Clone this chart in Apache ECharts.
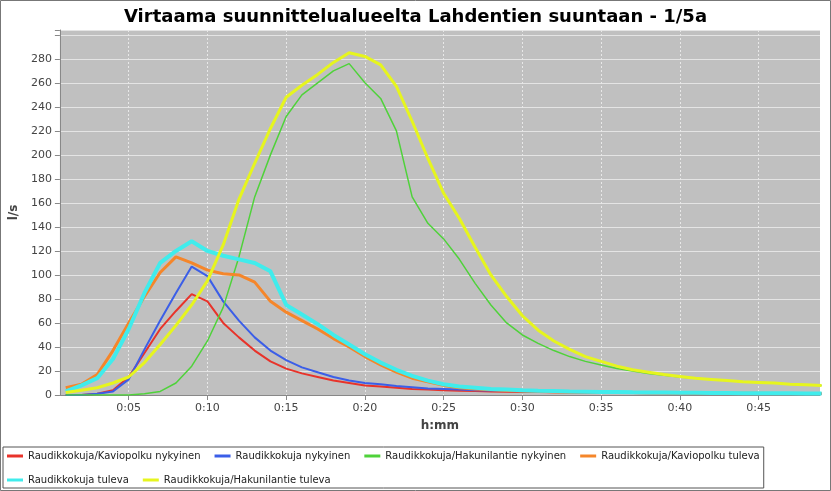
<!DOCTYPE html>
<html lang="fi">
  <head>
    <meta charset="UTF-8">
    <title>Virtaama</title>
    <style>
      body { margin: 0; }
      #chart { width: 831px; height: 491px; }
    </style>
  </head>
  <body>
    <div id="chart"></div>
    <script src="https://cdn.jsdelivr.net/npm/echarts@6/dist/echarts.min.js"></script>
    <script type="text/javascript">
      var myChart = echarts.init(document.getElementById('chart'));

      // minuutit 1..49
      var minutes = [];
      for (var m = 1; m <= 49; m++) minutes.push(m);

      var names = [
        'Raudikkokuja/Kaviopolku nykyinen',
        'Raudikkokuja nykyinen',
        'Raudikkokuja/Hakunilantie nykyinen',
        'Raudikkokuja/Kaviopolku tuleva',
        'Raudikkokuja tuleva',
        'Raudikkokuja/Hakunilantie tuleva'
      ];
      var colors = ['#e8332a', '#3b5ee8', '#4fd23a', '#f5862a', '#40ecec', '#e6f51e'];
      var widths = [2, 2, 1.5, 3, 4, 3];

      var kavioNyk = [0, 0, 1, 4, 15, 35, 55, 70, 84, 78, 60, 48, 37, 28, 22, 18, 15, 12, 10, 8, 7, 6, 5, 4.5, 4,
        3.6, 3.3, 3, 2.8, 2.6, 2.4, 2.2, 2, 1.9, 1.8, 1.7, 1.6, 1.5, 1.4, 1.3, 1.2, 1.2, 1.1, 1.1, 1, 1, 1, 0.9, 0.9];
      var raudNyk = [0, 0, 1, 3, 13, 38, 62, 85, 107, 99, 78, 62, 48, 37, 29, 23, 19, 15, 12, 10, 9, 7.5, 6.5, 5.5, 5,
        4.5, 4, 3.7, 3.4, 3.1, 2.9, 2.7, 2.5, 2.3, 2.2, 2.1, 2, 1.9, 1.8, 1.7, 1.6, 1.5, 1.5, 1.4, 1.4, 1.3, 1.3, 1.2, 1.2];
      var hakuNyk = [0, 0, 0, 0, 0, 1, 3, 10, 24, 45, 73, 115, 165, 200, 232, 250, 260, 270, 276, 260, 247, 220, 165, 143, 130,
        113, 93, 75, 60, 50, 43, 37, 32, 28, 25, 22, 20, 18, 16.5, 15, 14, 13, 12, 11, 10.5, 10, 9, 8.5, 8];
      var kavioTul = [6, 9, 17, 37, 60, 82, 102, 115, 110, 104, 101, 100, 94, 78, 69, 62, 55, 47, 40, 32, 25, 19, 14, 11, 8,
        6, 5, 4.3, 3.8, 3.4, 3.1, 2.8, 2.6, 2.4, 2.2, 2.1, 2, 1.9, 1.8, 1.7, 1.6, 1.5, 1.5, 1.4, 1.4, 1.3, 1.3, 1.2, 1.2];
      var raudTul = [3, 8, 14, 30, 55, 85, 110, 120, 128, 120, 116, 113, 110, 103, 75, 67, 59, 50, 42, 34, 27, 21, 16, 12, 9,
        7, 6, 5, 4.5, 4, 3.6, 3.3, 3, 2.8, 2.6, 2.4, 2.2, 2.1, 2, 1.9, 1.8, 1.7, 1.6, 1.5, 1.5, 1.4, 1.4, 1.3, 1.3];
      var hakuTul = [2, 4, 6, 10, 15, 27, 42, 58, 75, 95, 125, 163, 193, 222, 248, 258, 267, 277, 285, 282, 275, 257, 228, 197, 168,
        147, 123, 100, 82, 66, 54, 45, 38, 32, 28, 24, 21, 19, 17, 15.5, 14, 13, 12, 11, 10.5, 10, 9, 8.5, 8];
      var allData = [kavioNyk, raudNyk, hakuNyk, kavioTul, raudTul, hakuTul];

      var xTicks = [5, 10, 15, 20, 25, 30, 35, 40, 45];

      var series = names.map(function (n, i) {
        return {
          name: n,
          type: 'line',
          showSymbol: false,
          animation: false,
          lineStyle: { color: colors[i], width: widths[i] },
          itemStyle: { color: colors[i] },
          data: minutes.map(function (mm, k) { return [mm, allData[i][k]]; })
        };
      });

      var option = {
        backgroundColor: '#fff',
        textStyle: { fontFamily: 'DejaVu Sans' },
        title: {
          text: 'Virtaama suunnittelualueelta Lahdentien suuntaan - 1/5a',
          left: 'center',
          top: 3,
          textStyle: { fontSize: 18, fontWeight: 'bold', color: '#000', fontFamily: 'DejaVu Sans' }
        },
        grid: {
          left: 57, right: 11, top: 30, bottom: 96,
          show: true, backgroundColor: '#c0c0c0', borderWidth: 0
        },
        legend: {
          left: 3, top: 447, width: 823, height: 36,
          padding: [4, 4, 3, 4],
          orient: 'horizontal',
          borderColor: '#555', borderWidth: 1,
          itemWidth: 16, itemHeight: 3, itemGap: 14,
          icon: 'rect',
          textStyle: { fontSize: 10, color: '#222', fontFamily: 'DejaVu Sans' },
          data: names
        },
        xAxis: {
          type: 'value',
          min: 0.63, max: 48.9,
          name: 'h:mm', nameLocation: 'middle', nameGap: 25,
          nameTextStyle: { fontWeight: 'bold', fontSize: 12, color: '#444' },
          axisLine: { lineStyle: { color: '#888' } },
          axisTick: { show: true, customValues: xTicks, lineStyle: { color: '#888' } },
          axisLabel: {
            customValues: xTicks, color: '#444', fontSize: 11,
            formatter: function (v) { return '0:' + (v < 10 ? '0' : '') + v; }
          },
          splitLine: { show: true, lineStyle: { color: '#e8e8e8', type: [2, 2] } }
        },
        yAxis: {
          type: 'value',
          min: 0, max: 304, interval: 20,
          name: 'l/s', nameLocation: 'middle', nameGap: 33,
          nameTextStyle: { fontWeight: 'bold', fontSize: 12, color: '#444' },
          axisLine: { show: true, lineStyle: { color: '#888' } },
          axisTick: { show: true, lineStyle: { color: '#888' } },
          axisLabel: {
            color: '#444', fontSize: 11,
            formatter: function (v) { return (v % 20 === 0 && v <= 280) ? v : ''; }
          },
          splitLine: { show: true, lineStyle: { color: '#e4e4e4', width: 1 } }
        },
        graphic: [{
          type: 'rect', shape: { x: 0.5, y: 0.5, width: 830, height: 490 },
          style: { fill: 'none', stroke: '#777', lineWidth: 1 }, silent: true
        }],
        series: series
      };

      myChart.setOption(option);
    </script>
  </body>
</html>
